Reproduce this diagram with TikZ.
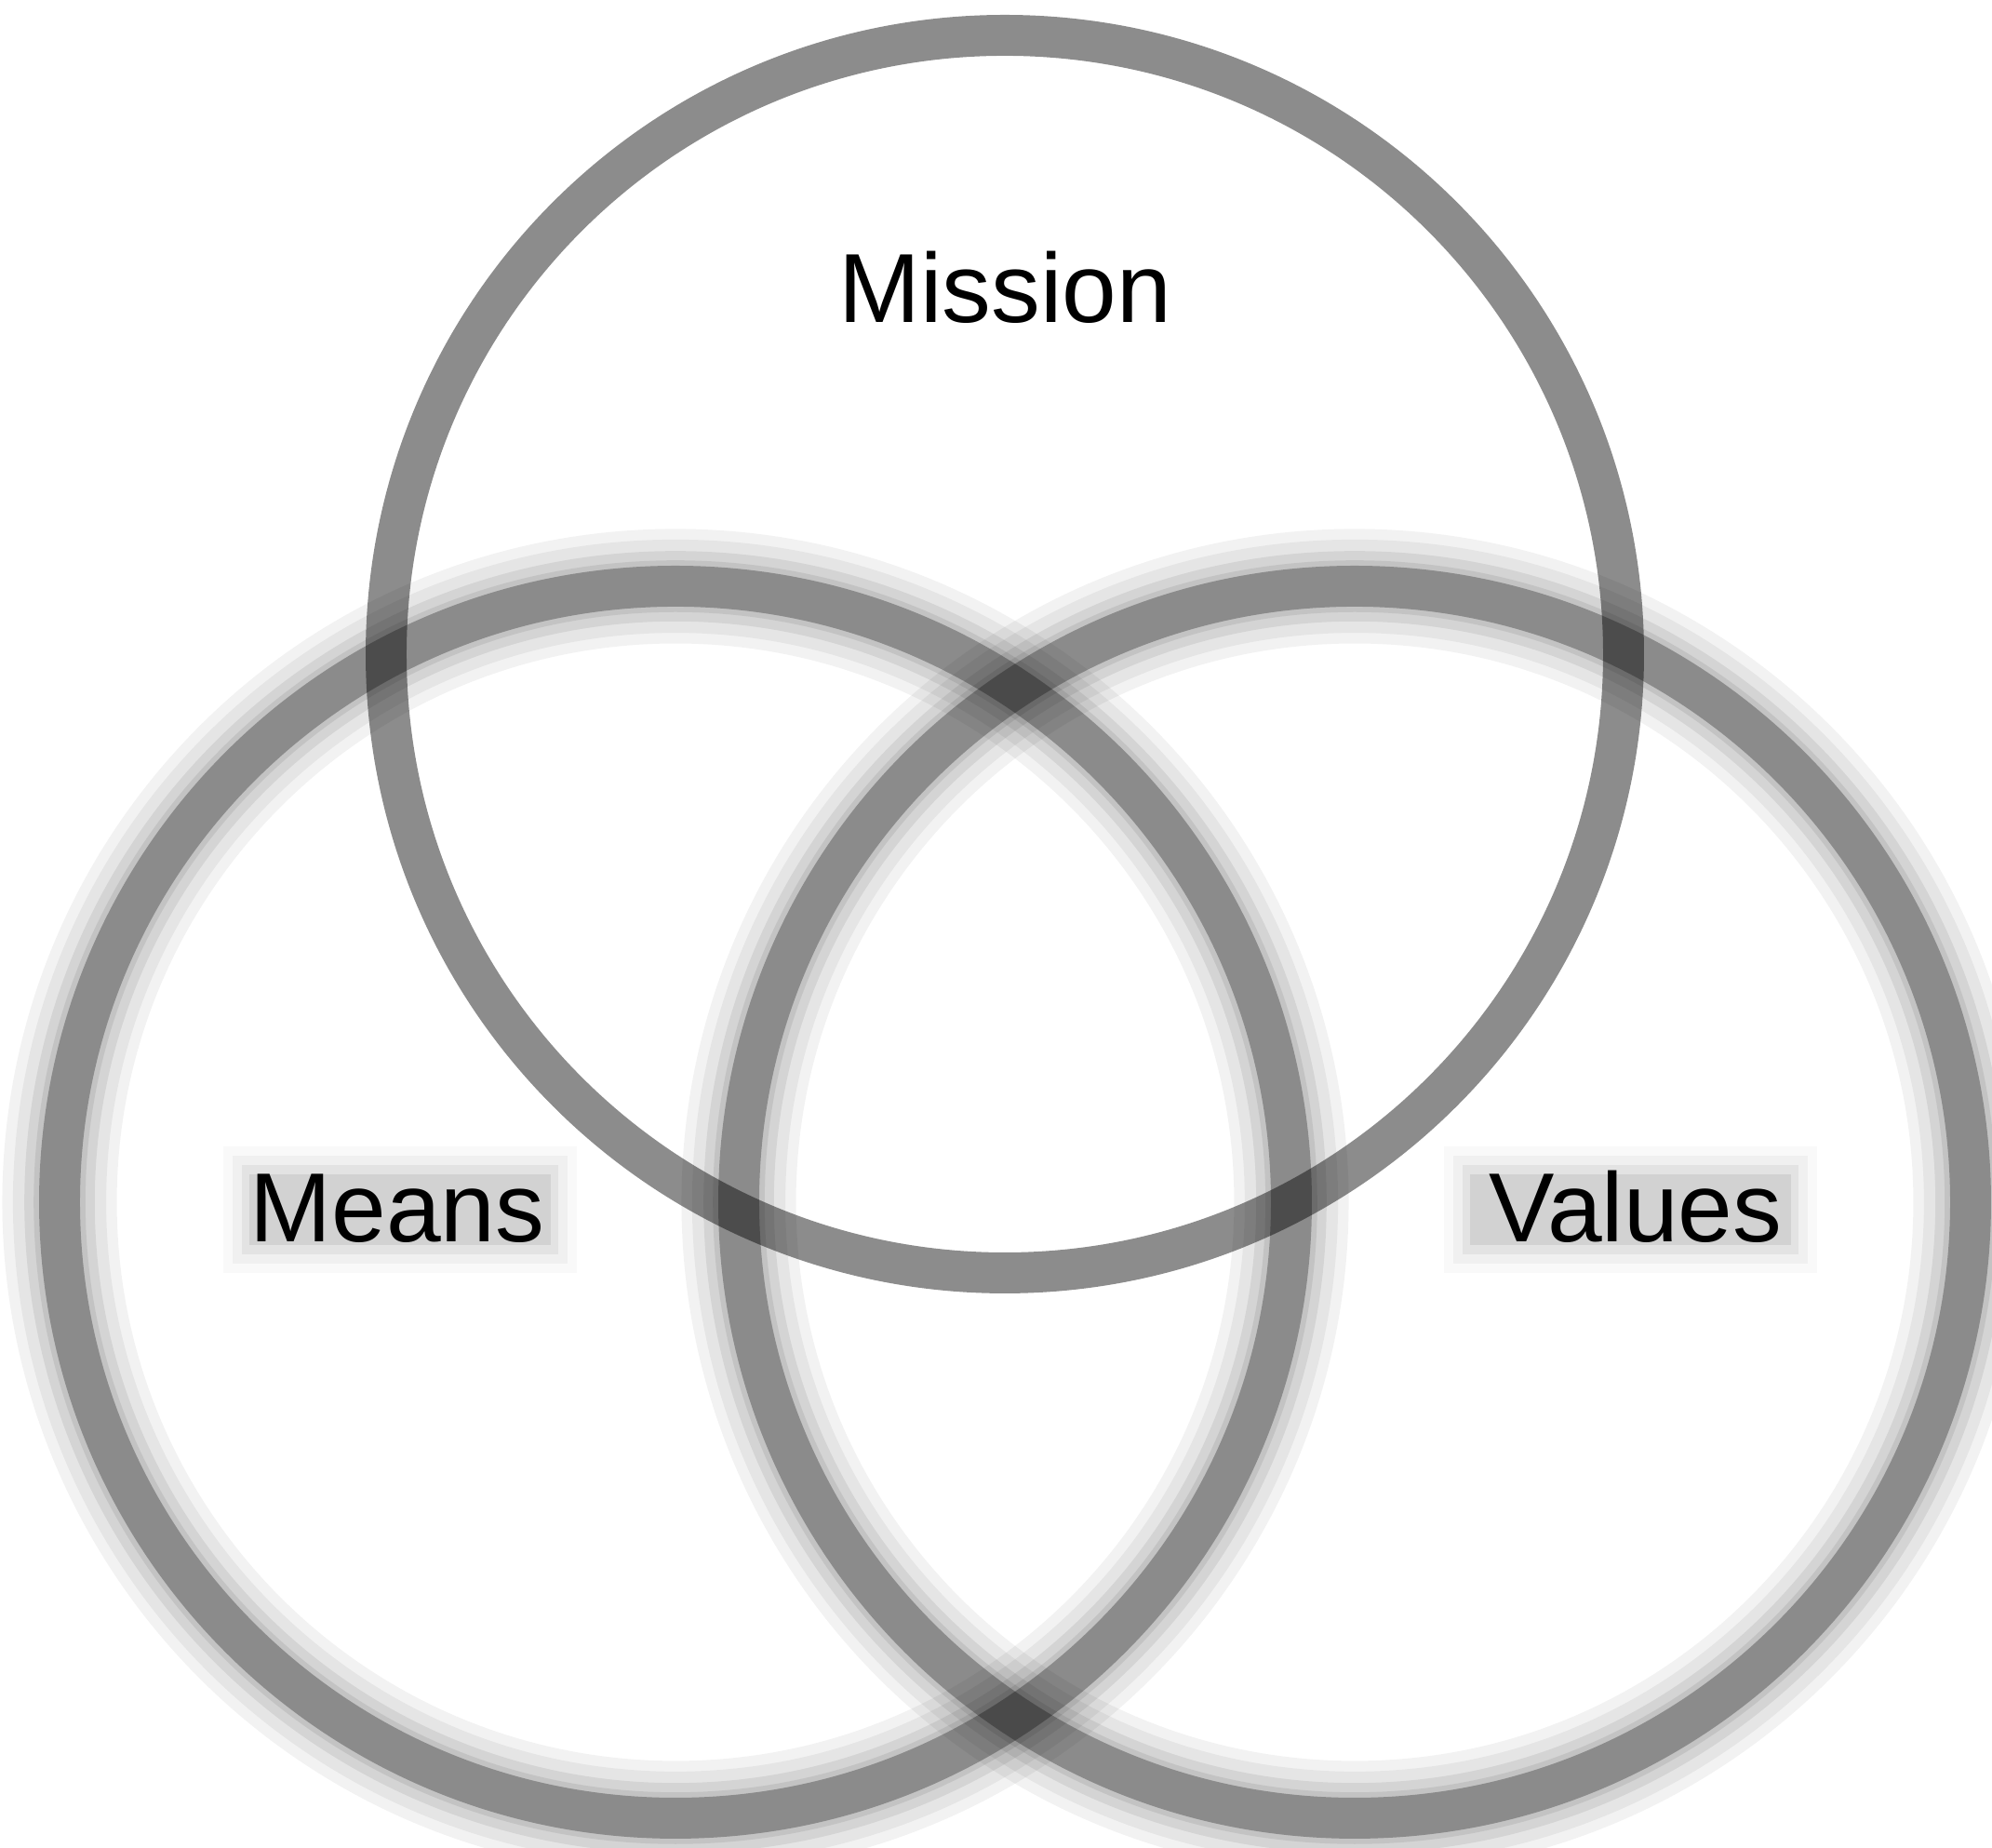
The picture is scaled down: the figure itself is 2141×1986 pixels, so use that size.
\documentclass[tikz,border=0pt]{standalone}
\usepackage{fontspec}
\setmainfont{Liberation Sans}
\begin{document}
\begin{tikzpicture}[x=0.01cm,y=0.01cm,
  ringmain/.style={draw=black,draw opacity=0.45,line width=12.5pt},
  ringsoft/.style={draw=black,draw opacity=0.288,line width=12.5pt},
  halo/.style 2 args={draw=black,draw opacity=#2,line width=#1},
  lbl/.style={font=\fontsize{30}{36}\selectfont,text=black,anchor=base,inner sep=0pt},
  lblbg/.style={fill=black,fill opacity=#1,draw=none}
]
\useasboundingbox (0,0) rectangle (2141,1986);
\fill[white] (0,0) rectangle (2141,1986);
% label background blur (Means)
\path[lblbg=0.025] (240,618) rectangle (620,754);
\path[lblbg=0.035] (250,628) rectangle (610,744);
\path[lblbg=0.05] (260,638) rectangle (600,734);
\path[lblbg=0.07] (268,648) rectangle (592,724);
% label background blur (Values)
\path[lblbg=0.025] (1552,618) rectangle (1953,754);
\path[lblbg=0.035] (1562,628) rectangle (1943,744);
\path[lblbg=0.05] (1572,638) rectangle (1933,734);
\path[lblbg=0.07] (1580,648) rectangle (1925,724);
% Means circle (blurred)
\foreach \cx/\nm in {726/means, 1456/values}{
  \draw[halo={35pt}{0.05}] (\cx,694) circle (662);
  \draw[halo={28.5pt}{0.05}] (\cx,694) circle (662);
  \draw[halo={21.5pt}{0.07}] (\cx,694) circle (662);
  \draw[halo={15.8pt}{0.08}] (\cx,694) circle (662);
  \draw[ringsoft] (\cx,694) circle (662);
}
% Mission circle
\draw[ringmain] (1080,1283) circle (665);
% labels
\node[lbl] (mission) at (1080,1639) {Mission};
\node[lbl] (means) at (427,651) {Means};
\node[lbl] (values) at (1758,651) {Values};
\end{tikzpicture}
\end{document}
